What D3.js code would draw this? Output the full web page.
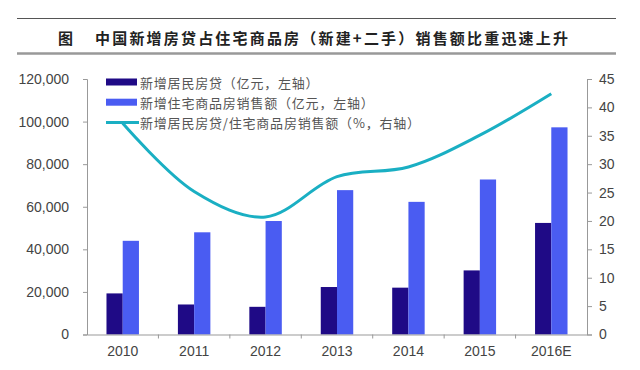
<!DOCTYPE html>
<html>
<head>
<meta charset="utf-8">
<script src="https://cdn.jsdelivr.net/npm/d3@7"></script>
<style>
  body { margin: 0; background: #fff; }
  svg { display: block; }
</style>
</head>
<body>
<div id="chart"></div>
<script>
// data
const categories = ['2010', '2011', '2012', '2013', '2014', '2015', '2016E'];
const newLoans = [19300, 14100, 13000, 22300, 22000, 30100, 52400];      // 亿元, left axis
const housingSales = [44000, 48000, 53300, 67800, 62300, 72800, 97300]; // 亿元, left axis
const loanShare = [37.2, 25.2, 20.7, 27.8, 29.5, 35.1, 42.4];          // %, right axis
const leftTicks = [0, 20000, 40000, 60000, 80000, 100000, 120000];
const rightTicks = [0, 5, 10, 15, 20, 25, 30, 35, 40, 45];
const legendLabels = [
  '新增居民房贷（亿元，左轴）',
  '新增住宅商品房销售额（亿元，左轴）',
  '新增居民房贷/住宅商品房销售额（%，右轴）'
];
const title = '中国新增房贷占住宅商品房（新建+二手）销售额比重迅速上升';

const darkColor = '#1f0a86';
const lightColor = '#4a5cf2';
const lineColor = '#1aafc3';

const W = 640, H = 370;
const plot = { left: 87, right: 587, top: 79, bottom: 334.5 };

const svg = d3.select('#chart').append('svg')
  .attr('width', W)
  .attr('height', H);

// title block
svg.append('line')
  .attr('x1', 17).attr('x2', 616).attr('y1', 18.5).attr('y2', 18.5)
  .attr('stroke', '#555').attr('stroke-width', 1);
svg.append('line')
  .attr('x1', 17).attr('x2', 616).attr('y1', 53.5).attr('y2', 53.5)
  .attr('stroke', '#999').attr('stroke-width', 2.5);
svg.append('text')
  .attr('x', 58).attr('y', 37)
  .attr('dominant-baseline', 'central')
  .attr('font-family', 'Noto Sans CJK SC')
  .attr('font-weight', 'bold')
  .attr('font-size', '15px')
  .attr('fill', '#222')
  .text('图');
svg.append('text')
  .attr('x', 95).attr('y', 37)
  .attr('dominant-baseline', 'central')
  .attr('font-family', 'Noto Sans CJK SC')
  .attr('font-weight', 'bold')
  .attr('font-size', '15px')
  .attr('fill', '#222')
  .attr('textLength', 473)
  .attr('lengthAdjust', 'spacing')
  .text(title);

const x = d3.scaleBand()
  .domain(categories)
  .range([plot.left, plot.right])
  .padding(0);

const inner = d3.scaleBand()
  .domain(['loan', 'sales'])
  .range([0, x.bandwidth()])
  .paddingInner(0)
  .paddingOuter(1.2);

const yLeft = d3.scaleLinear().domain([0, 120000]).range([plot.bottom, plot.top]);
const yRight = d3.scaleLinear().domain([0, 45]).range([plot.bottom, plot.top]);

// bars
const g = svg.append('g');
g.selectAll('.bar-loan')
  .data(categories)
  .enter()
  .append('rect')
  .attr('class', 'bar-loan')
  .attr('x', d => x(d) + inner('loan'))
  .attr('y', (d, i) => yLeft(newLoans[i]))
  .attr('width', inner.bandwidth())
  .attr('height', (d, i) => yLeft(0) - yLeft(newLoans[i]))
  .attr('fill', darkColor);

g.selectAll('.bar-sales')
  .data(categories)
  .enter()
  .append('rect')
  .attr('class', 'bar-sales')
  .attr('x', d => x(d) + inner('sales'))
  .attr('y', (d, i) => yLeft(housingSales[i]))
  .attr('width', inner.bandwidth())
  .attr('height', (d, i) => yLeft(0) - yLeft(housingSales[i]))
  .attr('fill', lightColor);

// axes
const axisColor = '#999';
const labelFont = 'Liberation Sans, Arial, sans-serif';

const leftAxis = svg.append('g')
  .attr('transform', `translate(${plot.left},0)`)
  .call(d3.axisLeft(yLeft).tickValues(leftTicks).tickSize(4).tickSizeOuter(4)
    .tickPadding(14).tickFormat(d3.format(',')));

const rightAxis = svg.append('g')
  .attr('transform', `translate(${plot.right},0)`)
  .call(d3.axisRight(yRight).tickValues(rightTicks).tickSize(5).tickSizeOuter(5)
    .tickPadding(7));

const xAxis = svg.append('g')
  .attr('transform', `translate(0,${plot.bottom})`)
  .call(d3.axisBottom(x).tickSize(0).tickPadding(12));

// category boundary ticks
svg.append('g')
  .selectAll('line')
  .data(categories.slice(1))
  .enter()
  .append('line')
  .attr('x1', d => x(d)).attr('x2', d => x(d))
  .attr('y1', plot.bottom).attr('y2', plot.bottom + 4)
  .attr('stroke', axisColor);

[leftAxis, rightAxis, xAxis].forEach(a => {
  a.selectAll('.domain, .tick line').attr('stroke', axisColor);
  a.selectAll('.tick text')
    .attr('font-family', labelFont)
    .attr('font-size', '14px')
    .attr('fill', '#444');
});

// share line
const line = d3.line()
  .x((d, i) => x(categories[i]) + x.bandwidth() / 2)
  .y(d => yRight(d))
  .curve(d3.curveCatmullRom.alpha(0.5));

svg.append('path')
  .datum(loanShare)
  .attr('d', line)
  .attr('fill', 'none')
  .attr('stroke', lineColor)
  .attr('stroke-width', 3);

// legend
const legend = svg.append('g').attr('transform', 'translate(106,82)');
const rowGap = 20.2;
legend.append('rect')
  .attr('x', 0).attr('y', -3.5).attr('width', 31).attr('height', 7)
  .attr('fill', darkColor);
legend.append('rect')
  .attr('x', 0).attr('y', rowGap - 3.5).attr('width', 31).attr('height', 7)
  .attr('fill', lightColor);
legend.append('line')
  .attr('x1', 0).attr('x2', 33).attr('y1', rowGap * 2).attr('y2', rowGap * 2)
  .attr('stroke', lineColor).attr('stroke-width', 3);
legend.selectAll('.legend-label')
  .data(legendLabels)
  .enter()
  .append('text')
  .attr('class', 'legend-label')
  .attr('x', 34)
  .attr('y', (d, i) => i * rowGap)
  .attr('dominant-baseline', 'central')
  .attr('font-family', 'Noto Sans CJK SC')
  .attr('font-size', '13px')
  .attr('letter-spacing', '0.8px')
  .attr('fill', '#555')
  .text(d => d);
</script>
</body>
</html>
